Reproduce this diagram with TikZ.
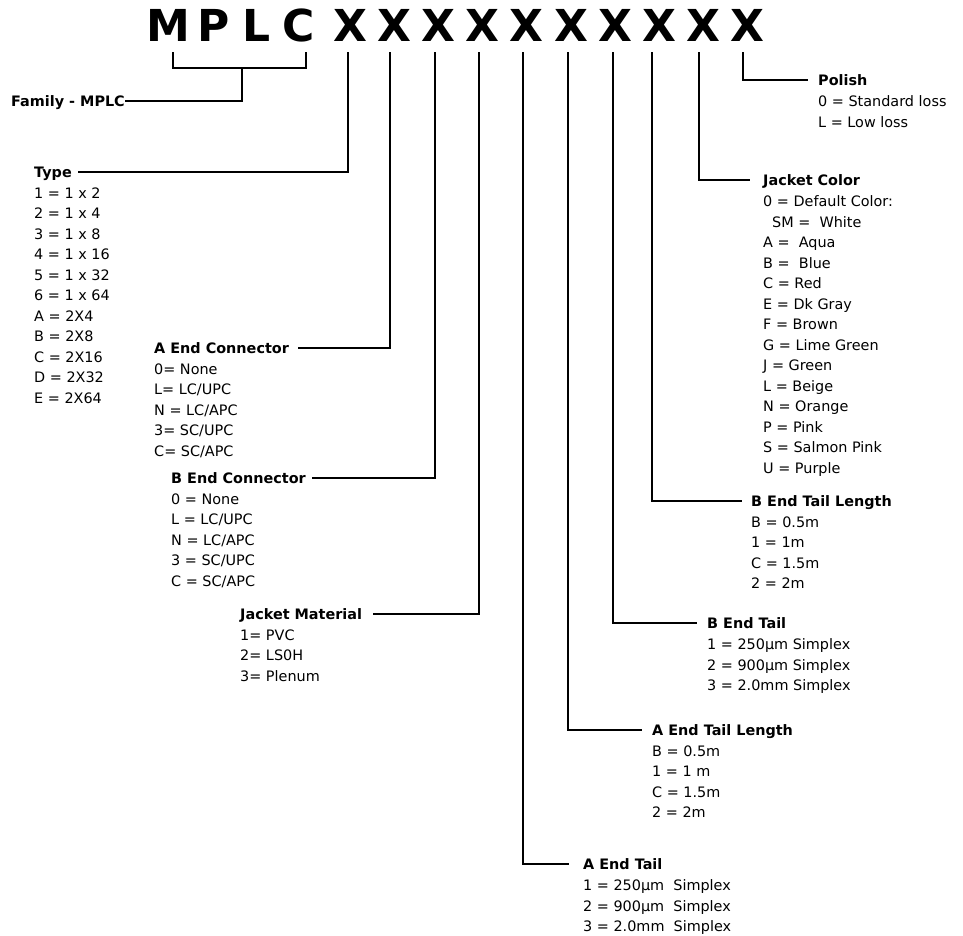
\documentclass[tikz,border=0pt]{standalone}
\usepackage{fontspec}
\setmainfont{DejaVu Sans}
\usetikzlibrary{positioning}

\begin{document}
\begin{tikzpicture}[x=1pt, y=-1pt]
  \tikzset{
    letra/.style={font=\bfseries\fontsize{44}{44}\selectfont,inner sep=0pt,text height=32pt,text depth=0pt},
    cab/.style={font=\bfseries\fontsize{14.4}{20.5}\selectfont,inner sep=0pt,text height=10.5pt,text depth=0pt,anchor=west},
    lista/.style={font=\fontsize{14.4}{20.5}\selectfont,inner sep=0pt,align=left,anchor=north west},
    lin/.style={draw=black,line width=1.7pt}
  }
  \useasboundingbox (0,0) rectangle (963,935);
  \node[letra] (m) at (168,25) {M};
  \node[letra] (p) at (214,25) {P};
  \node[letra] (l) at (257,25) {L};
  \node[letra] (c) at (299,25) {C};
  \foreach \i in {1,...,10}
    \node[letra] (x\i) at ({350+44.2*(\i-1)},25) {X};
  \foreach \i/\xx in {1/348,2/390,3/435,4/479,5/523,6/568,7/613,8/652,9/699,10/743}
    \coordinate (t\i) at (\xx,52);
  \coordinate (bl) at (173,52);
  \coordinate (br) at (306,52);
  \coordinate (bm) at (242,68);
  \node[cab] (fam) at (11,101) {Family - MPLC};
  \node[cab] (type) at (34,172) {Type};
  \node[lista, below right=10pt and 0pt of type.south west] (typel)
    {1 = 1 x 2\\2 = 1 x 4\\3 = 1 x 8\\4 = 1 x 16\\5 = 1 x 32\\6 = 1 x 64\\A = 2X4\\B = 2X8\\C = 2X16\\D = 2X32\\E = 2X64};
  \node[cab] (aec) at (154,348) {A End Connector};
  \node[lista, below right=10pt and 0pt of aec.south west] (aecl)
    {0= None\\L= LC/UPC\\N = LC/APC\\3= SC/UPC\\C= SC/APC};
  \node[cab] (bec) at (171,478) {B End Connector};
  \node[lista, below right=10pt and 0pt of bec.south west] (becl)
    {0 = None\\L = LC/UPC\\N = LC/APC\\3 = SC/UPC\\C = SC/APC};
  \node[cab] (jm) at (240,614) {Jacket Material};
  \node[lista, below right=10pt and 0pt of jm.south west] (jml)
    {1= PVC\\2= LS0H\\3= Plenum};
  \node[cab] (pol) at (818,80) {Polish};
  \node[lista, below right=10pt and 0pt of pol.south west] (poll)
    {0 = Standard loss\\L = Low loss};
  \node[cab] (jc) at (763,180) {Jacket Color};
  \node[lista, below right=10pt and 0pt of jc.south west] (jcl)
    {0 = Default Color:\\\hspace*{9pt}SM = ~White\\A = ~Aqua\\B = ~Blue\\C = Red\\E = Dk Gray\\F = Brown\\G = Lime Green\\J = Green\\L = Beige\\N = Orange\\P = Pink\\S = Salmon Pink\\U = Purple};
  \node[cab] (betl) at (751,501) {B End Tail Length};
  \node[lista, below right=10pt and 0pt of betl.south west] (betll)
    {B = 0.5m\\1 = 1m\\C = 1.5m\\2 = 2m};
  \node[cab] (bet) at (707,623) {B End Tail};
  \node[lista, below right=10pt and 0pt of bet.south west] (betl2)
    {1 = 250µm Simplex\\2 = 900µm Simplex\\3 = 2.0mm Simplex};
  \node[cab] (aetl) at (652,730) {A End Tail Length};
  \node[lista, below right=10pt and 0pt of aetl.south west] (aetll)
    {B = 0.5m\\1 = 1 m\\C = 1.5m\\2 = 2m};
  \node[cab] (aet) at (583,864) {A End Tail};
  \node[lista, below right=10pt and 0pt of aet.south west] (aetl2)
    {1 = 250µm ~Simplex\\2 = 900µm ~Simplex\\3 = 2.0mm ~Simplex};
  \draw[lin] (bl) -- ++(0,16) -| (br);
  \draw[lin] (bm) |- (fam.east);
  \draw[lin] (t1) |- ([xshift=6pt]type.east);
  \draw[lin] (t2) |- ([xshift=9pt]aec.east);
  \draw[lin] (t3) |- ([xshift=6pt]bec.east);
  \draw[lin] (t4) |- ([xshift=11pt]jm.east);
  \draw[lin] (t5) |- ([xshift=-14pt]aet.west);
  \draw[lin] (t6) |- ([xshift=-10pt]aetl.west);
  \draw[lin] (t7) |- ([xshift=-10pt]bet.west);
  \draw[lin] (t8) |- ([xshift=-9pt]betl.west);
  \draw[lin] (t9) |- ([xshift=-13pt]jc.west);
  \draw[lin] (t10) |- ([xshift=-10pt]pol.west);
\end{tikzpicture}
\end{document}
